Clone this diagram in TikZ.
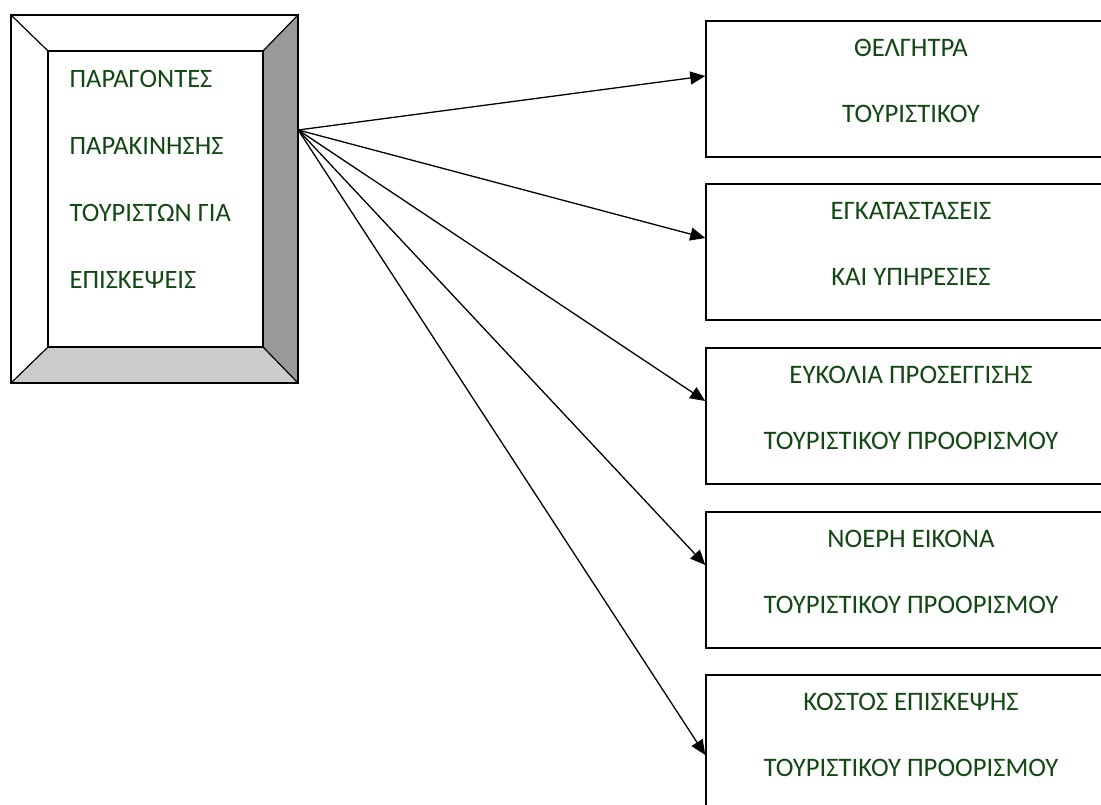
\documentclass[tikz,border=0pt]{standalone}
\usepackage{fontspec}
\setmainfont{Carlito}
\usetikzlibrary{arrows.meta}

\definecolor{txtgreen}{RGB}{18,72,18}
\definecolor{bevdark}{RGB}{153,153,153}
\definecolor{bevlight}{RGB}{204,204,204}

\tikzset{
  lbl/.style={text=txtgreen, font=\fontsize{26.7}{66}\selectfont, inner sep=0pt},
  goalbox/.style={draw, line width=1.5pt, minimum width=410pt, minimum height=136pt, inner sep=0pt},
  link/.style={line width=1.3pt, -{Triangle[length=15pt,width=13pt]}}
}

\begin{document}
\begin{tikzpicture}[x=1pt, y=-1pt]
\useasboundingbox (0,0) rectangle (1101,805);

% bevelled frame on the left
\node[minimum width=287pt, minimum height=368pt, inner sep=0pt] (frame) at (154.5,199) {};
\node[minimum width=215pt, minimum height=296pt, inner sep=0pt] (src) at (155.5,199) {};
\fill[bevdark] (frame.north east) -- (frame.south east) -- (src.south east) -- (src.north east) -- cycle;
\fill[bevlight] (frame.south west) -- (frame.south east) -- (src.south east) -- (src.south west) -- cycle;
\draw[line width=1.5pt] (frame.north west) rectangle (frame.south east);
\draw[line width=1.5pt] (src.north west) rectangle (src.south east);
\draw[line width=1.2pt] (frame.north west) -- (src.north west);
\draw[line width=1.2pt] (frame.north east) -- (src.north east);
\draw[line width=1.2pt] (frame.south east) -- (src.south east);
\draw[line width=1.2pt] (frame.south west) -- (src.south west);
\node[lbl, align=left, anchor=west, font=\fontsize{26.5}{67}\selectfont] (motive) at (69.5,179) {ΠΑΡΑΓΟΝΤΕΣ\\ΠΑΡΑΚΙΝΗΣΗΣ\\ΤΟΥΡΙΣΤΩΝ ΓΙΑ\\ΕΠΙΣΚΕΨΕΙΣ};

% boxes on the right
\node[goalbox] (g1) at (911,89) {};
\node[lbl, align=center] (t1) at ([yshift=8pt]g1.center) {ΘΕΛΓΗΤΡΑ\\ΤΟΥΡΙΣΤΙΚΟΥ};
\node[goalbox] (g2) at (911,252) {};
\node[lbl, align=center] (t2) at ([yshift=8pt]g2.center) {ΕΓΚΑΤΑΣΤΑΣΕΙΣ\\ΚΑΙ ΥΠΗΡΕΣΙΕΣ};
\node[goalbox] (g3) at (911,416) {};
\node[lbl, align=center] (t3) at ([yshift=8pt]g3.center) {ΕΥΚΟΛΙΑ ΠΡΟΣΕΓΓΙΣΗΣ\\ΤΟΥΡΙΣΤΙΚΟΥ ΠΡΟΟΡΙΣΜΟΥ};
\node[goalbox] (g4) at (911,580) {};
\node[lbl, align=center] (t4) at ([yshift=8pt]g4.center) {ΝΟΕΡΗ ΕΙΚΟΝΑ\\ΤΟΥΡΙΣΤΙΚΟΥ ΠΡΟΟΡΙΣΜΟΥ};
\node[goalbox] (g5) at (911,743) {};
\node[lbl, align=center] (t5) at ([yshift=8pt]g5.center) {ΚΟΣΤΟΣ ΕΠΙΣΚΕΨΗΣ\\ΤΟΥΡΙΣΤΙΚΟΥ ΠΡΟΟΡΙΣΜΟΥ};

% arrows
\coordinate (hub) at (frame.north east |- 0,130);
\draw[link] (hub) -- ([yshift=13pt]g1.west);
\draw[link] (hub) -- ([yshift=14pt]g2.west);
\draw[link] (hub) -- ([yshift=15pt]g3.west);
\draw[link] (hub) -- ([yshift=15pt]g4.west);
\draw[link] (hub) -- ([yshift=-12pt]g5.west);
\end{tikzpicture}
\end{document}
